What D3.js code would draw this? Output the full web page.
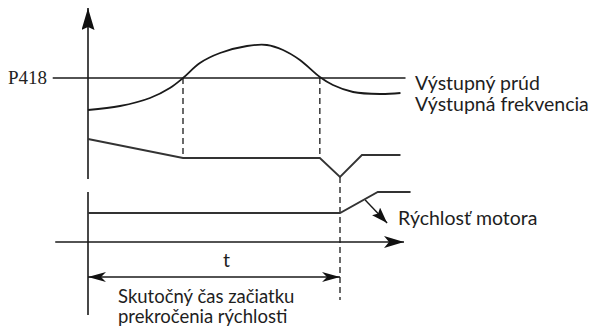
<!DOCTYPE html>
<html>
<head>
<meta charset="utf-8">
<script src="https://cdn.jsdelivr.net/npm/d3@7"></script>
<style>
  body { margin: 0; background: #fff; }
  svg { display: block; }
  .lbl { font-family: Lato, "Open Sans", sans-serif; font-size: 19.5px; fill: #1e1e1e; }
  .note { font-size: 18.5px; }
</style>
</head>
<body>
<div id="chart"></div>
<script>
// Time units: 0 = vertical axis, 100 = moment speed rises (end of t)
const currentPts = [[0, 66], [12.7, 68], [24.6, 72], [32.5, 77], [37.7, 82], [44.4, 89.5],
  [52.4, 94.5], [63.1, 98], [71, 98.5], [77.4, 96], [84.1, 91], [92, 82.5], [97.2, 78.5],
  [105.2, 75], [115.9, 74], [124, 74.5]];
const freqPts = [[0, 51.5], [37.7, 42], [92, 42], [100, 32.5], [108.7, 43.5], [124, 43.5]];
const speedPts = [[0, 14.5], [100, 14.5], [115, 25], [128, 25]];
const thresholdLevel = 82;     // P418
const crossTimes = [37.7, 92]; // current crosses P418
const speedStart = 100;
const labels = ["Výstupný prúd", "Výstupná frekvencia", "Rýchlosť motora"];
const tLabel = "t";
const noteLines = ["Skutočný čas začiatku", "prekročenia rýchlosti"];

const width = 594, height = 326;
const x = d3.scaleLinear().domain([0, 100]).range([88, 340]);
const y = d3.scaleLinear().domain([0, 100]).range([242, 42]);

const svg = d3.select("#chart").append("svg")
  .attr("width", width).attr("height", height);

const defs = svg.append("defs");
function marker(id, len, wid, notch) {
  defs.append("marker")
    .attr("id", id)
    .attr("viewBox", `${-len} ${-wid / 2} ${len} ${wid}`)
    .attr("refX", 0).attr("refY", 0)
    .attr("markerWidth", len).attr("markerHeight", wid)
    .attr("markerUnits", "userSpaceOnUse")
    .attr("orient", "auto-start-reverse")
    .append("path")
    .attr("d", `M0,0L${-len},${-wid / 2}L${-len + notch},0L${-len},${wid / 2}Z`)
    .attr("fill", "#111");
}
marker("axisArrow", 22, 13, 3);
marker("hArrow", 20, 12, 5);
marker("tArrow", 18, 10, 5);
marker("mArrow", 16, 11, 3);

const stroke = "#1a1a1a";
const line = d3.line().x(d => x(d[0])).y(d => y(d[1]));

// axes
svg.append("line")
  .attr("x1", x(0)).attr("x2", x(0)).attr("y1", y(31.5)).attr("y2", y(117))
  .attr("stroke", stroke).attr("stroke-width", 1.6)
  .attr("marker-end", "url(#axisArrow)");
svg.append("line")
  .attr("x1", x(0)).attr("x2", x(0)).attr("y1", y(25)).attr("y2", y(-36.5))
  .attr("stroke", stroke).attr("stroke-width", 1.6);
svg.append("line")
  .attr("x1", x(-13)).attr("x2", x(125.4)).attr("y1", y(0)).attr("y2", y(0))
  .attr("stroke", stroke).attr("stroke-width", 1.4)
  .attr("marker-end", "url(#hArrow)");

// P418 threshold
svg.append("line")
  .attr("x1", x(-14)).attr("x2", x(126)).attr("y1", y(thresholdLevel)).attr("y2", y(thresholdLevel))
  .attr("stroke", stroke).attr("stroke-width", 1.4);
svg.append("text")
  .attr("x", 8).attr("y", y(thresholdLevel) + 6)
  .style("font-family", "'Liberation Serif', serif").style("font-size", "19px")
  .attr("fill", "#222").text("P418");

// dashed guides
crossTimes.forEach(t => {
  svg.append("line")
    .attr("x1", x(t)).attr("x2", x(t)).attr("y1", y(thresholdLevel)).attr("y2", y(42))
    .attr("stroke", stroke).attr("stroke-width", 1.3).attr("stroke-dasharray", "6,4");
});
svg.append("line")
  .attr("x1", x(speedStart)).attr("x2", x(speedStart)).attr("y1", y(32.5)).attr("y2", y(-29))
  .attr("stroke", stroke).attr("stroke-width", 1.3).attr("stroke-dasharray", "6,4");

// signals
svg.append("path").datum(currentPts)
  .attr("d", line.curve(d3.curveCatmullRom)).attr("fill", "none")
  .attr("stroke", stroke).attr("stroke-width", 1.8);
svg.append("path").datum(freqPts)
  .attr("d", line.curve(d3.curveLinear)).attr("fill", "none")
  .attr("stroke", "#333").attr("stroke-width", 1.8);
svg.append("path").datum(speedPts)
  .attr("d", line.curve(d3.curveLinear)).attr("fill", "none")
  .attr("stroke", "#333").attr("stroke-width", 1.8);

// pointer to motor speed label
svg.append("line")
  .attr("x1", x(110)).attr("y1", y(21)).attr("x2", x(118.7)).attr("y2", y(9.5))
  .attr("stroke", stroke).attr("stroke-width", 1.4)
  .attr("marker-end", "url(#mArrow)");

// t span
svg.append("line")
  .attr("x1", x(0)).attr("x2", x(speedStart)).attr("y1", y(-17.5)).attr("y2", y(-17.5))
  .attr("stroke", stroke).attr("stroke-width", 1.4)
  .attr("marker-start", "url(#tArrow)").attr("marker-end", "url(#tArrow)");
svg.append("text").attr("class", "lbl")
  .attr("x", x(55)).attr("y", 267).attr("text-anchor", "middle").text(tLabel);

// labels
svg.append("text").attr("class", "lbl").attr("x", 415).attr("y", 90).text(labels[0]);
svg.append("text").attr("class", "lbl").attr("x", 415).attr("y", 111).text(labels[1]);
svg.append("text").attr("class", "lbl").attr("x", 398).attr("y", 225).text(labels[2]);
noteLines.forEach((s, i) => {
  svg.append("text").attr("class", "lbl note").attr("x", 118).attr("y", 303 + i * 20).text(s);
});
</script>
</body>
</html>
